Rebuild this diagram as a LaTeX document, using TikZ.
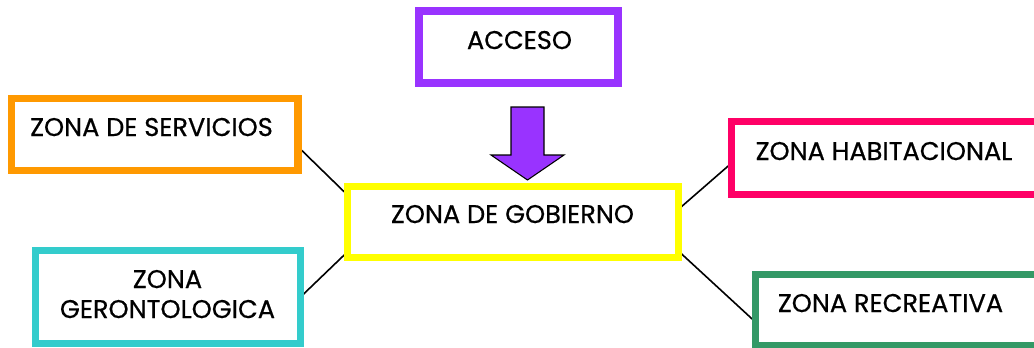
\documentclass[tikz,border=0pt]{standalone}
\usepackage{fontspec}
\setmainfont{Poppins}
\newfontfamily\lblfont{Poppins}[FakeBold=0.6]
\usetikzlibrary{calc,backgrounds}
\definecolor{cpurple}{HTML}{9933FF}
\definecolor{corange}{HTML}{FF9900}
\definecolor{cyellow}{HTML}{FFFF00}
\definecolor{cteal}{HTML}{33CCCC}
\definecolor{cpink}{HTML}{FF0066}
\definecolor{cgreen}{HTML}{339966}
\tikzset{
  zbox/.style={draw=#1, fill=white, line width=5.6pt, rectangle, inner sep=0pt, outer sep=0pt},
  lbl/.style={font=\lblfont\fontsize{19.2}{22}\selectfont, inner sep=0pt, anchor=base},
  link/.style={draw=black, line width=1.2pt},
  blockarrow/.style={fill=cpurple, draw=black, line width=0.8pt, line join=miter}
}
\begin{document}
\begin{tikzpicture}[x=0.75pt, y=-0.75pt]
\useasboundingbox (0,0) rectangle (1034,347);
\clip (0,0) rectangle (1034,347);
% boxes
\node[zbox=cpurple, minimum width=199*0.75pt, minimum height=72*0.75pt] (acc) at (518.5,47) {};
\node[zbox=corange, minimum width=286.5*0.75pt, minimum height=72*0.75pt] (serv) at (154.75,134.5) {};
\node[zbox=cyellow, minimum width=331*0.75pt, minimum height=71*0.75pt] (gob) at (513,222) {};
\node[zbox=cteal, minimum width=265*0.75pt, minimum height=93*0.75pt] (ger) at (168,297) {};
\node[zbox=cpink, minimum width=313.5*0.75pt, minimum height=73*0.75pt] (hab) at (888.25,158) {};
\node[zbox=cgreen, minimum width=289.5*0.75pt, minimum height=71*0.75pt] (rec) at (900.25,310) {};
% labels
\node[lbl] (tacc) at (519.5,49) {ACCESO};
\node[lbl] (tserv) at (151.5,136) {ZONA DE SERVICIOS};
\node[lbl] (tgob) at (512.5,223) {ZONA DE GOBIERNO};
\node[lbl] (tger1) at (167.5,288) {ZONA};
\node[lbl] (tger2) at (167.5,318) {GERONTOLOGICA};
\node[lbl] (thab) at (884,160) {ZONA HABITACIONAL};
\node[lbl] (trec) at (890.5,312) {ZONA RECREATIVA};
% block arrow
\draw[blockarrow] (511,107) -- (544,107) -- (544,155) -- (564,155) -- (527.5,180) -- (491,155) -- (511,155) -- cycle;
% connectors
\begin{scope}[on background layer]
\draw[link] ($(serv.north east)!0.67!(serv.south east)$) -- ($(gob.north west)!0.12!(gob.south west)$);
\draw[link] (ger.east) -- ($(gob.north west)!0.92!(gob.south west)$);
\draw[link] ($(gob.north east)!0.32!(gob.south east)$) -- ($(hab.north west)!0.57!(hab.south west)$);
\draw[link] ($(gob.north east)!0.91!(gob.south east)$) -- ($(rec.north west)!0.67!(rec.south west)$);
\end{scope}
\end{tikzpicture}
\end{document}
